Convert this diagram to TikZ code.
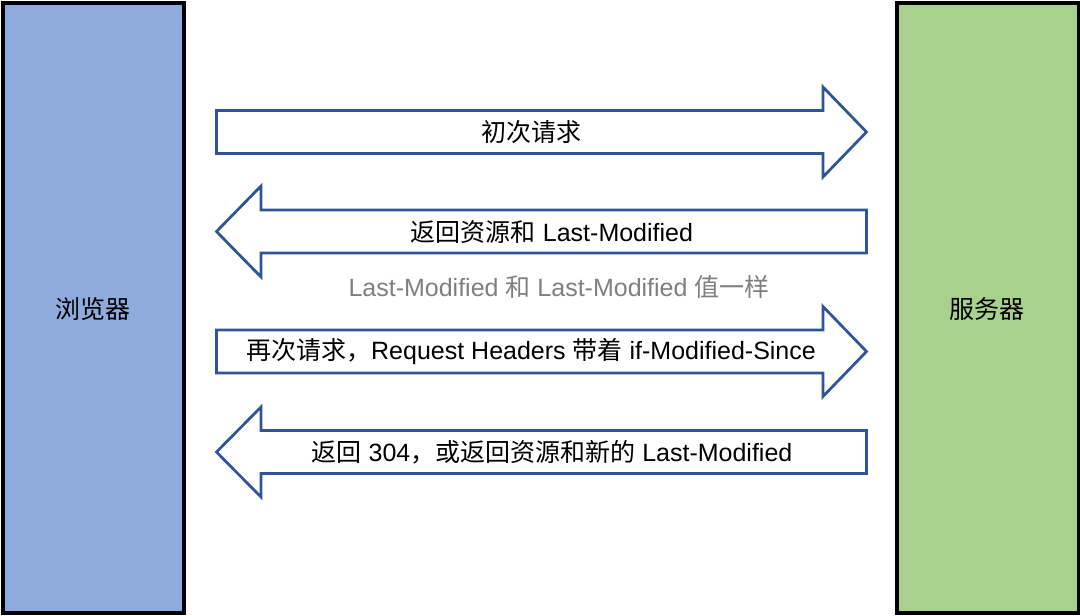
\documentclass[tikz,border=0pt]{standalone}
\usepackage{fontspec}
\setmainfont{Liberation Sans}
\newfontfamily\cjk{Noto Sans CJK SC}
\definecolor{arrowblue}{HTML}{2F5597}
\definecolor{browserfill}{HTML}{8FAADC}
\definecolor{serverfill}{HTML}{A9D18E}
\definecolor{notegray}{HTML}{7F7F7F}
\begin{document}
\begin{tikzpicture}[x=1pt,y=-1pt,
  every node/.style={font=\fontsize{25}{30}\selectfont, inner sep=0pt},
  sidebox/.style={draw=black, line width=3.5pt},
  blockarrow/.style={draw=arrowblue, line width=2.75pt, line join=miter, fill=white},
  notetext/.style={text=notegray}]
\useasboundingbox (0,0) rectangle (1080,616);
% side boxes
\draw[sidebox, fill=browserfill] (3,3) rectangle (184,613);
\draw[sidebox, fill=serverfill] (897,3) rectangle (1079,613);
\node (browser) at (93,309) {\cjk 浏览器};
\node (server) at (987,309) {\cjk 服务器};
% block arrows
\draw[blockarrow] (216.5,110.5) -- (823,110.5) -- (823,87) -- (866.5,132) -- (823,177) -- (823,153.5) -- (216.5,153.5) -- cycle;
\draw[blockarrow] (866.5,210) -- (261,210) -- (261,186) -- (216.5,231.5) -- (261,277) -- (261,253) -- (866.5,253) -- cycle;
\draw[blockarrow] (216.5,330) -- (823,330) -- (823,306.5) -- (866.5,351.5) -- (823,396.5) -- (823,373) -- (216.5,373) -- cycle;
\draw[blockarrow] (866.5,430.5) -- (261,430.5) -- (261,407) -- (216.5,452) -- (261,497) -- (261,473.5) -- (866.5,473.5) -- cycle;
% labels
\node (req1) at (531,132) {\cjk 初次请求};
\node (resp1) at (552,232) {{\cjk 返回资源和} Last-Modified};
\node[notetext] (note) at (559,287) {Last-Modified {\cjk 和} Last-Modified {\cjk 值一样}};
\node (req2) at (531,352) {{\cjk 再次请求，}Request Headers {\cjk 带着} if-Modified-Since};
\node (resp2) at (552,452) {{\cjk 返回} 304{\cjk ，或返回资源和新的} Last-Modified};
\end{tikzpicture}
\end{document}
